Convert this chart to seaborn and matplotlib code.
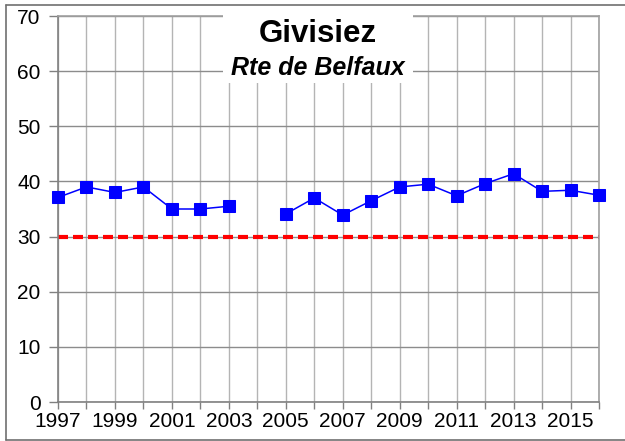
import numpy as np
import pandas as pd
import matplotlib
matplotlib.use("Agg")
import matplotlib.pyplot as plt
import seaborn as sns
from matplotlib.patches import Rectangle
from matplotlib.lines import Line2D

# ── data ────────────────────────────────────────────────────────────────
years   = [1997, 1998, 1999, 2000, 2001, 2002, 2003,
           2005, 2006, 2007, 2008, 2009, 2010, 2011, 2012, 2013, 2014, 2015, 2016]
values  = [37.1, 39.0, 38.0, 39.0, 35.0, 35.0, 35.5,
           34.1, 37.0, 33.9, 36.5, 39.0, 39.5, 37.4, 39.6, 41.4, 38.2, 38.4, 37.5]
segment = [1, 1, 1, 1, 1, 1, 1,
           2, 2, 2, 2, 2, 2, 2, 2, 2, 2, 2, 2]   # gap in 2004
limit   = 30
title    = "Givisiez"
subtitle = "Rte de Belfaux"

df = pd.DataFrame({"year": years, "value": values, "segment": segment})

sns.set_theme(style="white")
plt.rcParams["font.family"] = ["Liberation Sans", "DejaVu Sans"]
plt.rcParams["text.color"] = "black"
plt.rcParams["xtick.labelcolor"] = "black"
plt.rcParams["ytick.labelcolor"] = "black"

fig = plt.figure(figsize=(6.25, 4.41), dpi=100)
ax = fig.add_axes([58 / 625, 1 - 402 / 441, 541 / 625, 386 / 441])

# grid
ax.set_xlim(1997, 2016)
ax.set_ylim(0, 70)
ax.set_xticks(range(1997, 2017))
ax.set_xticklabels([str(y) if (y - 1997) % 2 == 0 else "" for y in range(1997, 2017)])
ax.set_yticks(range(0, 71, 10))
ax.xaxis.grid(True, color="#b4b4b4", lw=1.0)
ax.yaxis.grid(True, color="#8c8c8c", lw=1.0)
ax.set_axisbelow(True)

# limit line
ax.axhline(limit, color="#ff0000", lw=3, ls=(0, (2.4, 1.2)), zorder=2)

# measured values
sns.lineplot(data=df, x="year", y="value", units="segment", estimator=None,
             color="#0000ff", lw=1.1, marker="s", markersize=8.5,
             markeredgecolor="#0000ff", ax=ax, zorder=3, clip_on=False)

ax.set_xlabel("")
ax.set_ylabel("")

for side in ["top", "right"]:
    ax.spines[side].set_color("#a0a0a0")
    ax.spines[side].set_linewidth(1.2)
for side in ["left", "bottom"]:
    ax.spines[side].set_color("#808080")
    ax.spines[side].set_linewidth(1.2)

ax.tick_params(axis="both", direction="out", width=1.0,
               color="#808080", left=True, bottom=True)
ax.tick_params(axis="x", labelsize=15, length=5, pad=2)
ax.tick_params(axis="y", labelsize=15, length=6.5, pad=6)

# white title box covering the grid
ax.add_patch(Rectangle((0.305, 0.826), 0.351, 0.18, transform=ax.transAxes,
                       facecolor="white", edgecolor="none", zorder=4, clip_on=False))
ax.text(0.48, 0.953, title, transform=ax.transAxes, ha="center", va="center",
        fontsize=22.5, fontweight="bold", zorder=5)
ax.text(0.48, 0.865, subtitle, transform=ax.transAxes, ha="center", va="center",
        fontsize=18, fontweight="bold", fontstyle="italic", zorder=5)

# outer frame (left, top, bottom)
for xs, ys in [([6 / 625, 6 / 625], [1 - 440 / 441, 1 - 5 / 441]),
               ([6 / 625, 1.0], [1 - 5 / 441, 1 - 5 / 441]),
               ([6 / 625, 1.0], [1 - 440 / 441, 1 - 440 / 441])]:
    fig.add_artist(Line2D(xs, ys, transform=fig.transFigure, color="#707070", lw=1.2))

fig.savefig("out.png", dpi=100)
